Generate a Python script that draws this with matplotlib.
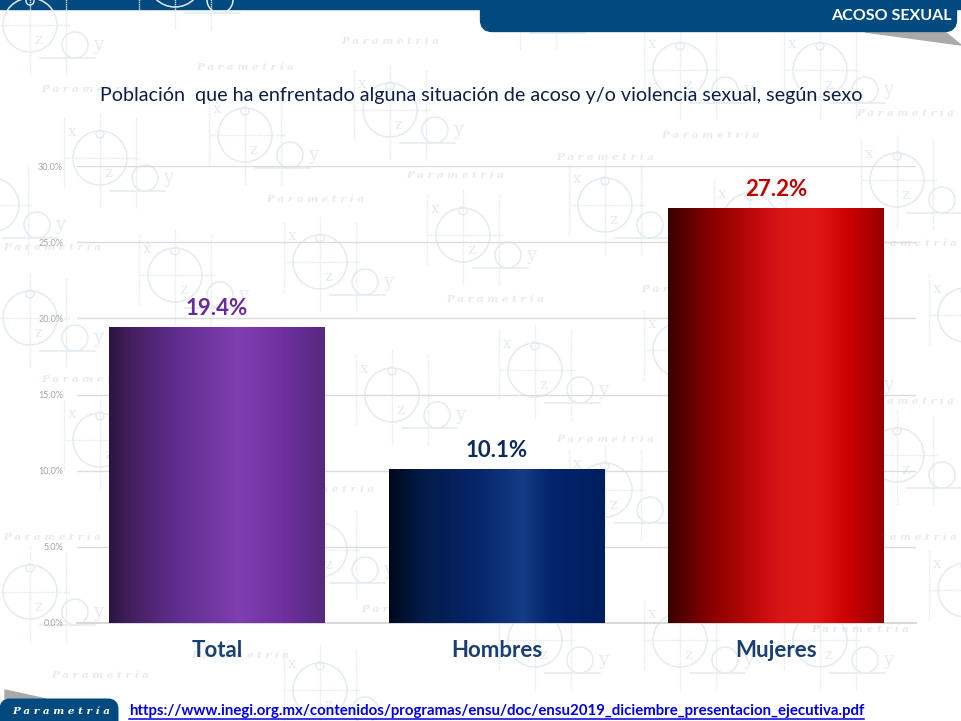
import matplotlib
matplotlib.use("Agg")
import matplotlib.pyplot as plt
import numpy as np
from matplotlib.colors import LinearSegmentedColormap
from matplotlib.patches import Circle, FancyBboxPatch, Polygon, Rectangle

plt.rcParams['font.family'] = ['Lato', 'DejaVu Sans']

categories = ["Total", "Hombres", "Mujeres"]
values = [19.4, 10.1, 27.2]
value_labels = ["19.4%", "10.1%", "27.2%"]
y_ticks = [0, 5, 10, 15, 20, 25, 30]
y_tick_labels = ["0.0%", "5.0%", "10.0%", "15.0%", "20.0%", "25.0%", "30.0%"]

title = "Población  que ha enfrentado alguna situación de acoso y/o violencia sexual, según sexo"
banner = "ACOSO SEXUAL"
url = "https://www.inegi.org.mx/contenidos/programas/ensu/doc/ensu2019_diciembre_presentacion_ejecutiva.pdf"
brand = "P a r a m e t r í a"

label_colors = ["#6a2a9e", "#0c2a5e", "#c00000"]
gradients = [
    [(0, "#2b1540"), (0.1, "#43205f"), (0.3, "#5e2c8c"), (0.6, "#7f3fb0"), (0.8, "#7030a0"), (1, "#56297f")],
    [(0, "#00081c"), (0.15, "#041a48"), (0.4, "#06256a"), (0.62, "#143c84"), (0.75, "#04246c"), (1, "#001f60")],
    [(0, "#3a0000"), (0.2, "#8a0000"), (0.42, "#c40a0a"), (0.52, "#d81616"), (0.68, "#e01818"), (0.85, "#c80000"), (1, "#960000")],
]

# watermark positions, in pixels
motifs = [(30, 25), (175, -20), (-8, 205), (100, 158), (175, 275), (245, 135),
          (320, 262), (463, 235), (535, 370), (605, 205), (680, 70), (520, 0),
          (30, 318), (30, 592), (100, 440), (173, 555), (245, 420), (320, 550),
          (392, 395), (463, 520), (605, 490), (680, 350), (750, 220), (750, 500),
          (820, 365), (897, 180), (897, 455), (965, 315), (965, 590), (680, 640),
          (320, 690), (535, 640), (820, 640), (390, 110), (820, 70)]
brand_marks = [(245, 67), (90, 90), (390, 42), (315, 200), (455, 176), (605, 158),
               (905, 113), (710, 135), (52, 248), (908, 243), (905, 402), (908, 537),
               (52, 537), (90, 380), (100, 675), (240, 655), (325, 490), (495, 300),
               (605, 440), (690, 290), (755, 425), (410, 610), (860, 630)]

pale = "#e4ebf1"


def put_text(bg, x, y, s, size):
    if 12 < x < 949 and 12 < y < 709:
        bg.text(x, y, s, color=pale, fontsize=size, family="DejaVu Serif", ha="center", va="center")


def draw_motif(bg, cx, cy):
    bg.add_patch(Circle((cx, cy), 27, fill=False, ec=pale, lw=1.1))
    bg.add_patch(Circle((cx, cy - 24), 4, fill=False, ec=pale, lw=1))
    bg.add_patch(Circle((cx + 45, cy + 20), 13, fill=False, ec=pale, lw=1.1))
    bg.plot([cx - 35, cx + 40], [cy, cy], color=pale, lw=1, ls=(0, (1, 0.6)))
    bg.plot([cx, cx], [cy - 45, cy + 50], color=pale, lw=1, ls=(0, (1, 0.6)))
    bg.plot([cx + 36, cx + 36], [cy - 40, cy + 50], color=pale, lw=1, ls=(0, (1, 0.6)))
    bg.plot([cx - 36, cx - 36], [cy - 40, cy + 30], color=pale, lw=1, ls=(0, (1, 0.6)))
    bg.plot([cx + 10, cx + 65], [cy + 33, cy + 33], color=pale, lw=1.1)
    put_text(bg, cx - 28, cy - 26, "x", 11)
    put_text(bg, cx + 8, cy + 15, "z", 11)
    put_text(bg, cx + 68, cy + 20, "y", 13)


fig = plt.figure(figsize=(9.61, 7.21), dpi=100, facecolor="white")

bg = fig.add_axes([0, 0, 1, 1])
bg.set_xlim(0, 961)
bg.set_ylim(721, 0)
bg.axis("off")

for cx, cy in motifs:
    draw_motif(bg, cx, cy)
for x, y in brand_marks:
    bg.text(x, y, brand, color=pale, fontsize=7.5, style="italic", weight="bold",
            family="DejaVu Serif", ha="center", va="center")

# header and footer
navy = "#004a80"
bg.add_patch(Rectangle((0, 0), 961, 9, color=navy, zorder=0.5))
bg.add_patch(FancyBboxPatch((484, -20), 469, 48, boxstyle="round,pad=0,rounding_size=8",
                            fc=navy, ec=navy, lw=6, zorder=3))
bg.add_patch(Polygon([(865, 32), (945, 32), (961, 45)], color="#a9a9a9", zorder=2.5))
bg.text(952, 16, banner, color="white", fontsize=11.5, weight="bold", ha="right", va="center", zorder=4)
bg.add_patch(Polygon([(5, 690), (46, 699), (5, 699)], color="#a9a9a9", zorder=2))
bg.add_patch(FancyBboxPatch((3, 702), 112, 30, boxstyle="round,pad=0,rounding_size=7",
                            fc=navy, ec=navy, lw=5, zorder=3))
bg.text(61, 711, brand, color="white", fontsize=7.5, style="italic", weight="bold",
        family="DejaVu Serif", ha="center", va="center", zorder=4)
bg.text(129, 711, url, color="#0000e0", fontsize=10.85, weight="bold", ha="left", va="center",
        zorder=4)
bg.plot([129, 864], [719, 719], color="#0000e0", lw=1.1, zorder=4)
bg.text(481, 95, title, color="#0c1f45", fontsize=14.2, ha="center", va="center")

# chart
ax = fig.add_axes([77 / 961, 1 - 623 / 721, 839 / 961, 457 / 721])
ax.patch.set_alpha(0)
bars = ax.bar(range(3), values, width=0.77, color="none")
for bar, stops in zip(bars, gradients):
    cmap = LinearSegmentedColormap.from_list("bar", stops)
    ax.imshow(np.linspace(0, 1, 256).reshape(1, -1), cmap=cmap, aspect="auto", zorder=3,
              extent=[bar.get_x(), bar.get_x() + bar.get_width(), 0, bar.get_height()])
for i, v in enumerate(values):
    ax.annotate(value_labels[i], (i, v), xytext=(0, 6), textcoords="offset points", ha="center",
                va="bottom", color=label_colors[i], fontsize=16, weight="bold", zorder=4)

ax.set_xlim(-0.5, 2.5)
ax.set_ylim(0, 30)
ax.set_yticks(y_ticks, y_tick_labels, color="#a6a6a6", fontsize=6.5)
ax.set_xticks(range(3), categories, color="#1a3f73", fontsize=16, weight="bold")
ax.tick_params(length=0)
ax.tick_params(axis="x", pad=12)
ax.tick_params(axis="y", pad=10)
ax.grid(axis="y", color="#dcdcdc", lw=1)
ax.set_axisbelow(True)
for side in ["top", "left", "right"]:
    ax.spines[side].set_visible(False)
ax.spines["bottom"].set_color("#d9d9d9")
ax.spines["bottom"].set_linewidth(1.5)

fig.savefig("out.png", dpi=100)
